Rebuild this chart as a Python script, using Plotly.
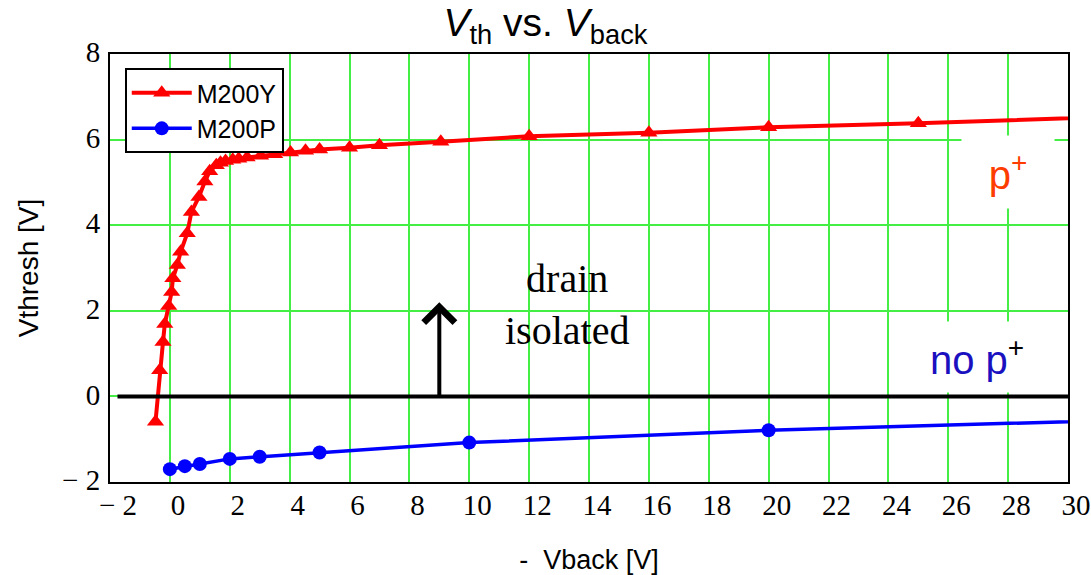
import plotly.graph_objects as go

# ---- data ----
m200y_x = [-0.48, -0.34, -0.23, -0.17, -0.04, 0.06, 0.10, 0.25, 0.36, 0.58, 0.72, 0.97,
           1.17, 1.33, 1.55, 1.69, 1.86, 2.10, 2.30, 2.58, 3.03, 3.50, 4.03, 4.53, 5.0,
           6.0, 7.0, 9.05, 12.0, 16.0, 20.0, 25.0, 35.0]
m200y_y = [-0.59, 0.61, 1.27, 1.69, 2.11, 2.44, 2.76, 3.07, 3.38, 3.81, 4.31, 4.66,
           5.02, 5.26, 5.40, 5.46, 5.50, 5.53, 5.55, 5.58, 5.62, 5.66, 5.70, 5.74, 5.77,
           5.81, 5.87, 5.95, 6.08, 6.16, 6.29, 6.38, 6.62]

m200p_x = [0.0, 0.5, 1.0, 2.0, 3.0, 5.0, 10.0, 20.0, 35.0]
m200p_y = [-1.70, -1.63, -1.58, -1.46, -1.41, -1.31, -1.08, -0.79, -0.49]

x_ticks = [-2, 0, 2, 4, 6, 8, 10, 12, 14, 16, 18, 20, 22, 24, 26, 28, 30]
x_ticktext = ["\u2212 2"] + [str(v) for v in x_ticks[1:]]
y_ticks = [-2, 0, 2, 4, 6, 8]
y_ticktext = ["\u2212 2"] + [str(v) for v in y_ticks[1:]]

arrow_x = 9
arrow_y0, arrow_y1 = 0, 2.2

GRID = "#44ee44"
SANS = "Liberation Sans"
SERIF = "Liberation Serif"

fig = go.Figure()
fig.add_trace(go.Scatter(
    x=m200y_x, y=m200y_y, name="M200Y", mode="lines+markers",
    line=dict(color="#ff0000", width=4),
    marker=dict(symbol="triangle-up", size=15, color="#ff0000"),
))
fig.add_trace(go.Scatter(
    x=m200p_x, y=m200p_y, name="M200P", mode="lines+markers",
    line=dict(color="#0000ff", width=3.5),
    marker=dict(symbol="circle", size=14, color="#0000ff"),
))

# horizontal black line at zero
fig.add_shape(type="line", x0=-1.75, x1=30, y0=0, y1=0, xref="x", yref="y",
              line=dict(color="black", width=4), layer="above")

# arrow
fig.add_annotation(x=arrow_x, y=arrow_y1, ax=arrow_x, ay=arrow_y0, xref="x", yref="y",
                   axref="x", ayref="y", text="", showarrow=True, arrowhead=4,
                   arrowsize=1.5, arrowwidth=4, arrowcolor="black", standoff=0)

fig.add_annotation(x=13.25, y=2.15, xref="x", yref="y", text="drain<br>isolated",
                   showarrow=False, font=dict(family=SERIF, size=40, color="black"))

fig.add_annotation(x=28.0, y=5.24, xref="x", yref="y", text="p<sup>+</sup>",
                   showarrow=False, font=dict(family=SANS, size=40, color="#ff3c00"),
                   bgcolor="white", width=90, height=70, borderpad=1)

fig.add_annotation(x=26.95, y=0.92, xref="x", yref="y",
                   text='no p<sup><span style="color:black">+</span></sup>',
                   showarrow=False, font=dict(family=SANS, size=40, color="#1a10c0"),
                   bgcolor="white", width=138, height=68, borderpad=1)

fig.update_layout(
    width=1091, height=575,
    margin=dict(l=110, r=23, t=54, b=93, autoexpand=False),
    paper_bgcolor="white", plot_bgcolor="white",
    title=dict(text="<i>V</i><sub>th</sub> vs. <i>V</i><sub>back</sub>",
               x=0.5, xref="container", xanchor="center",
               y=1 - 22 / 575, yref="container", yanchor="middle",
               font=dict(family=SANS, size=39, color="black")),
    legend=dict(x=0.0154, y=0.967, xanchor="left", yanchor="top",
                bgcolor="white", bordercolor="black", borderwidth=2,
                font=dict(family=SANS, size=25, color="black"),
                itemwidth=60, tracegroupgap=0),
    showlegend=True,
)
fig.update_xaxes(
    range=[-2, 30], tickmode="array", tickvals=x_ticks, ticktext=x_ticktext,
    showgrid=True, gridcolor=GRID, gridwidth=1.5, zeroline=False, automargin=False,
    showline=True, linecolor="black", linewidth=2, mirror=True, ticks="",
    tickfont=dict(family=SERIF, size=29, color="black"),
    ticklabelshift=8, ticklabelstandoff=-4,
    title=dict(text="-  Vback [V]", font=dict(family=SANS, size=27, color="black"), standoff=42),
)
fig.update_yaxes(
    range=[-2, 8], tickmode="array", tickvals=y_ticks, ticktext=y_ticktext,
    showgrid=True, gridcolor=GRID, gridwidth=1.5, zeroline=False, automargin=False,
    showline=True, linecolor="black", linewidth=2, mirror=True, ticks="",
    tickfont=dict(family=SERIF, size=29, color="black"),
    ticklabelshift=-2, ticklabelstandoff=2,
    title=dict(text="Vthresh [V]", font=dict(family=SANS, size=28, color="black"), standoff=15),
)

fig.write_html("out.html")
